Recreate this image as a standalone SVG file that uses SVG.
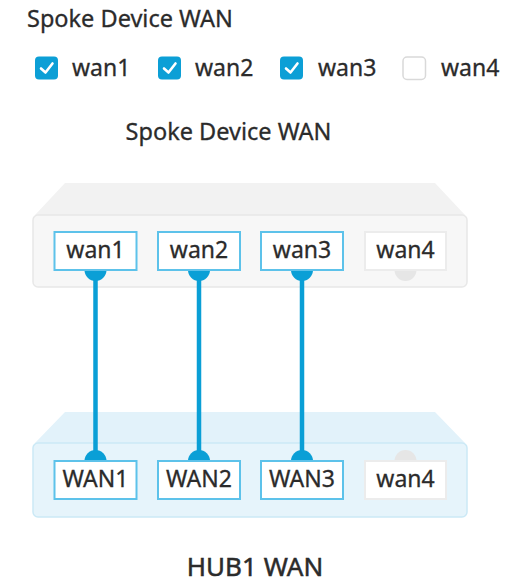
<svg xmlns="http://www.w3.org/2000/svg" width="515" height="583" viewBox="0 0 515 583">
  <defs>
    <style>
      text { font-family: "Noto Sans", "Liberation Sans", Arial, sans-serif; fill: #2b2b2b; stroke: #2b2b2b; stroke-width: 0.3; }
      .title { font-size: 23.5px; }
      .hub-title { font-size: 26px; stroke-width: 0.5; }
      .label { font-size: 23px; }
      .cb-on { fill: #0c9fd6; }
      .cb-off { fill: #ffffff; stroke: #d9d9d9; stroke-width: 1.5; }
      .tick { fill: none; stroke: #ffffff; stroke-width: 2.6; stroke-linecap: round; stroke-linejoin: round; }
      .spoke-top { fill: #f2f2f2; }
      .spoke-front { fill: #f7f7f7; stroke: #e8e8e8; stroke-width: 1.5; }
      .hub-top { fill: #e2f2fa; }
      .hub-front { fill: #e6f4fb; stroke: #cbe9f6; stroke-width: 1.5; }
      .port-on { fill: #ffffff; stroke: #5dc2ea; stroke-width: 2; }
      .port-off { fill: #ffffff; stroke: #ececec; stroke-width: 2; }
      .cap-on { fill: #0a9fd6; }
      .cap-off { fill: #e6e6e6; }
      .link { stroke: #0a9fd6; stroke-width: 4.5; fill: none; }
    </style>
  </defs>

  <rect width="515" height="583" fill="#ffffff"/>

  <!-- selector: heading and checkboxes -->
  <g id="selector">
    <text class="title" x="27" y="27">Spoke Device WAN</text>
    <g id="cb-wan1">
      <rect class="cb-on" x="35" y="56.5" width="23" height="23" rx="4"/>
      <path class="tick" d="M41,68.5 L45.5,72.5 L52.5,63.5"/>
      <text class="label" x="72" y="76">wan1</text>
    </g>
    <g id="cb-wan2">
      <rect class="cb-on" x="158" y="56.5" width="23" height="23" rx="4"/>
      <path class="tick" d="M164,68.5 L168.5,72.5 L175.5,63.5"/>
      <text class="label" x="195" y="76">wan2</text>
    </g>
    <g id="cb-wan3">
      <rect class="cb-on" x="280" y="56.5" width="23" height="23" rx="4"/>
      <path class="tick" d="M286,68.5 L290.5,72.5 L297.5,63.5"/>
      <text class="label" x="318" y="76">wan3</text>
    </g>
    <g id="cb-wan4">
      <rect class="cb-off" x="403" y="57" width="22.5" height="22.5" rx="4"/>
      <text class="label" x="441" y="76">wan4</text>
    </g>
  </g>

  <text class="title" x="228.5" y="140" text-anchor="middle">Spoke Device WAN</text>

  <!-- spoke device body -->
  <g id="spoke-device">
    <polygon class="spoke-top" points="65,183 435,183 465,215 35,215"/>
    <rect class="spoke-front" x="33" y="215" width="434" height="72" rx="5"/>
  </g>

  <!-- hub device body -->
  <g id="hub-device">
    <polygon class="hub-top" points="65,412 435,412 465,443 35,443"/>
    <rect class="hub-front" x="33" y="443" width="434" height="74" rx="5"/>
  </g>

  <!-- links run over both bodies, under the port boxes -->
  <g id="connectors">
    <line class="link" x1="95.5" y1="272" x2="95.5" y2="459"/>
    <line class="link" x1="199" y1="272" x2="199" y2="459"/>
    <line class="link" x1="302" y1="272" x2="302" y2="459"/>
  </g>

  <g id="spoke-wan1">
    <circle class="cap-on" cx="95.5" cy="270" r="11"/>
    <rect class="port-on" x="54.5" y="232" width="82" height="38"/>
    <text class="label" x="95.5" y="258" text-anchor="middle">wan1</text>
  </g>
  <g id="spoke-wan2">
    <circle class="cap-on" cx="199" cy="270" r="11"/>
    <rect class="port-on" x="158" y="232" width="82" height="38"/>
    <text class="label" x="199" y="258" text-anchor="middle">wan2</text>
  </g>
  <g id="spoke-wan3">
    <circle class="cap-on" cx="302" cy="270" r="11"/>
    <rect class="port-on" x="261" y="232" width="82" height="38"/>
    <text class="label" x="302" y="258" text-anchor="middle">wan3</text>
  </g>
  <g id="spoke-wan4">
    <circle class="cap-off" cx="405.5" cy="270" r="11"/>
    <rect class="port-off" x="365" y="232" width="81" height="38"/>
    <text class="label" x="405.5" y="258" text-anchor="middle">wan4</text>
  </g>

  <g id="hub-wan1">
    <circle class="cap-on" cx="95.5" cy="461" r="11"/>
    <rect class="port-on" x="54.5" y="461" width="82" height="38"/>
    <text class="label" x="95.5" y="487" text-anchor="middle">WAN1</text>
  </g>
  <g id="hub-wan2">
    <circle class="cap-on" cx="199" cy="461" r="11"/>
    <rect class="port-on" x="158" y="461" width="82" height="38"/>
    <text class="label" x="199" y="487" text-anchor="middle">WAN2</text>
  </g>
  <g id="hub-wan3">
    <circle class="cap-on" cx="302" cy="461" r="11"/>
    <rect class="port-on" x="261" y="461" width="82" height="38"/>
    <text class="label" x="302" y="487" text-anchor="middle">WAN3</text>
  </g>
  <g id="hub-wan4">
    <circle class="cap-off" cx="405.5" cy="461" r="11"/>
    <rect class="port-off" x="365" y="461" width="81" height="38"/>
    <text class="label" x="405.5" y="487" text-anchor="middle">wan4</text>
  </g>

  <text class="hub-title" x="255" y="576" text-anchor="middle">HUB1 WAN</text>
</svg>
